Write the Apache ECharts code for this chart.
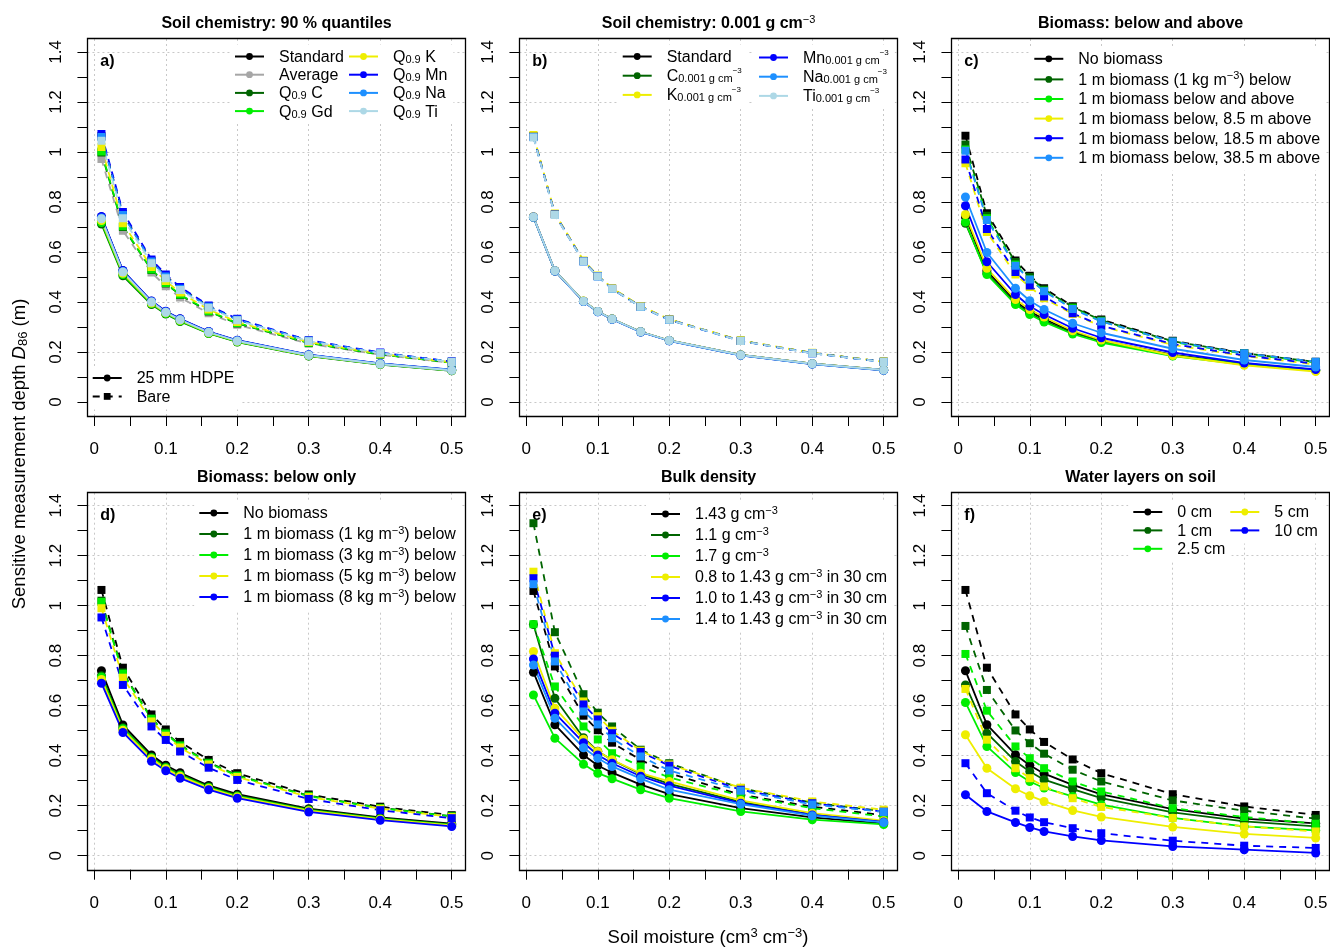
<!DOCTYPE html>
<html><head><meta charset="utf-8">
<script src="https://cdn.jsdelivr.net/npm/echarts@6/dist/echarts.min.js"></script>
<style>html,body{margin:0;padding:0;background:#fff}#c{width:1330px;height:948px}</style>
</head><body><div id="c"></div>
<script>
// ---------------- DATA ----------------
const moisture = [0.01, 0.04, 0.08, 0.1, 0.12, 0.16, 0.2, 0.3, 0.4, 0.5];
const xGridValues = [0, 0.1, 0.2, 0.3, 0.4, 0.5];
const yGridValues = [0, 0.2, 0.4, 0.6, 0.8, 1, 1.2, 1.4];

// a) Soil chemistry: 90 % quantiles  (H = 25 mm HDPE, solid; B = bare, dashed)
const aStdH = [0.740, 0.525, 0.403, 0.362, 0.332, 0.281, 0.246, 0.188, 0.153, 0.128];
const aStdB = [1.063, 0.752, 0.565, 0.505, 0.455, 0.383, 0.330, 0.245, 0.196, 0.161];
const aAvgH = [0.735, 0.515, 0.395, 0.355, 0.325, 0.276, 0.242, 0.185, 0.151, 0.126];
const aAvgB = [0.972, 0.685, 0.518, 0.463, 0.418, 0.355, 0.309, 0.233, 0.189, 0.156];
const aCH   = [0.712, 0.505, 0.390, 0.352, 0.322, 0.274, 0.240, 0.184, 0.150, 0.125];
const aCB   = [0.998, 0.700, 0.528, 0.474, 0.428, 0.362, 0.314, 0.236, 0.190, 0.157];
const aGdH  = [0.718, 0.510, 0.393, 0.354, 0.324, 0.275, 0.241, 0.185, 0.151, 0.126];
const aGdB  = [1.002, 0.703, 0.530, 0.476, 0.430, 0.364, 0.316, 0.237, 0.191, 0.158];
const aKH   = [0.726, 0.515, 0.396, 0.357, 0.327, 0.277, 0.243, 0.186, 0.152, 0.127];
const aKB   = [1.020, 0.715, 0.540, 0.484, 0.438, 0.370, 0.320, 0.240, 0.193, 0.159];
const aMnH  = [0.742, 0.526, 0.404, 0.363, 0.333, 0.282, 0.247, 0.189, 0.154, 0.129];
const aMnB  = [1.072, 0.760, 0.570, 0.510, 0.460, 0.386, 0.333, 0.247, 0.198, 0.162];
const aNaH  = [0.736, 0.522, 0.401, 0.360, 0.330, 0.280, 0.245, 0.188, 0.153, 0.128];
const aNaB  = [1.060, 0.748, 0.562, 0.502, 0.453, 0.381, 0.329, 0.245, 0.196, 0.161];
const aTiH  = [0.733, 0.520, 0.400, 0.359, 0.329, 0.279, 0.244, 0.187, 0.152, 0.127];
const aTiB  = [1.045, 0.735, 0.555, 0.495, 0.448, 0.377, 0.327, 0.243, 0.195, 0.160];

// b) Soil chemistry: 0.001 g cm-3
const bStdH = [0.740, 0.525, 0.403, 0.362, 0.332, 0.281, 0.246, 0.188, 0.153, 0.128];
const bStdB = [1.063, 0.752, 0.564, 0.504, 0.454, 0.382, 0.330, 0.245, 0.196, 0.161];
const bCH   = [0.739, 0.524, 0.403, 0.362, 0.332, 0.281, 0.246, 0.188, 0.153, 0.128];
const bCB   = [1.062, 0.751, 0.564, 0.504, 0.454, 0.382, 0.330, 0.245, 0.196, 0.161];
const bKH   = [0.741, 0.525, 0.404, 0.362, 0.332, 0.281, 0.246, 0.188, 0.153, 0.128];
const bKB   = [1.068, 0.754, 0.566, 0.506, 0.456, 0.384, 0.331, 0.246, 0.197, 0.161];
const bMnH  = [0.740, 0.524, 0.402, 0.361, 0.331, 0.280, 0.245, 0.187, 0.152, 0.127];
const bMnB  = [1.061, 0.750, 0.563, 0.503, 0.453, 0.381, 0.329, 0.244, 0.195, 0.160];
const bNaH  = [0.739, 0.524, 0.402, 0.361, 0.331, 0.280, 0.245, 0.187, 0.152, 0.127];
const bNaB  = [1.060, 0.749, 0.562, 0.502, 0.452, 0.380, 0.328, 0.244, 0.195, 0.160];
const bTiH  = [0.740, 0.525, 0.403, 0.362, 0.332, 0.281, 0.246, 0.188, 0.153, 0.128];
const bTiB  = [1.058, 0.748, 0.562, 0.502, 0.453, 0.381, 0.329, 0.244, 0.195, 0.160];

// c) Biomass: below and above
const cNoH   = [0.740, 0.525, 0.403, 0.362, 0.332, 0.281, 0.246, 0.188, 0.153, 0.128];
const cNoB   = [1.065, 0.755, 0.566, 0.505, 0.455, 0.383, 0.330, 0.245, 0.196, 0.161];
const c1kgH  = [0.715, 0.515, 0.395, 0.355, 0.325, 0.277, 0.243, 0.187, 0.152, 0.127];
const c1kgB  = [1.030, 0.745, 0.560, 0.500, 0.450, 0.380, 0.327, 0.243, 0.195, 0.160];
const cBAH   = [0.720, 0.510, 0.390, 0.350, 0.320, 0.272, 0.238, 0.184, 0.150, 0.125];
const cBAB   = [1.010, 0.735, 0.550, 0.490, 0.445, 0.375, 0.323, 0.240, 0.193, 0.158];
const c85H   = [0.750, 0.535, 0.410, 0.370, 0.340, 0.285, 0.248, 0.186, 0.147, 0.122];
const c85B   = [0.955, 0.680, 0.510, 0.460, 0.415, 0.352, 0.303, 0.228, 0.184, 0.150];
const c185H  = [0.785, 0.561, 0.430, 0.383, 0.350, 0.295, 0.257, 0.198, 0.156, 0.130];
const c185B  = [0.970, 0.692, 0.520, 0.466, 0.422, 0.355, 0.305, 0.232, 0.186, 0.153];
const c385H  = [0.820, 0.598, 0.455, 0.405, 0.370, 0.315, 0.277, 0.213, 0.168, 0.140];
const c385B  = [1.005, 0.728, 0.545, 0.490, 0.443, 0.372, 0.322, 0.242, 0.195, 0.161];

// d) Biomass: below only
const dNoH = [0.740, 0.523, 0.403, 0.362, 0.332, 0.281, 0.246, 0.188, 0.153, 0.128];
const dNoB = [1.063, 0.752, 0.565, 0.505, 0.455, 0.383, 0.330, 0.245, 0.196, 0.162];
const d1H  = [0.720, 0.512, 0.395, 0.355, 0.325, 0.276, 0.241, 0.185, 0.150, 0.125];
const d1B  = [1.020, 0.733, 0.550, 0.492, 0.443, 0.373, 0.322, 0.240, 0.192, 0.158];
const d3H  = [0.715, 0.508, 0.392, 0.352, 0.322, 0.273, 0.238, 0.182, 0.148, 0.123];
const d3B  = [1.015, 0.728, 0.547, 0.488, 0.440, 0.370, 0.319, 0.238, 0.190, 0.157];
const d5H  = [0.705, 0.502, 0.388, 0.348, 0.318, 0.270, 0.235, 0.180, 0.146, 0.121];
const d5B  = [0.990, 0.712, 0.537, 0.480, 0.433, 0.365, 0.315, 0.235, 0.188, 0.155];
const d8H  = [0.690, 0.493, 0.378, 0.340, 0.310, 0.264, 0.230, 0.175, 0.142, 0.117];
const d8B  = [0.953, 0.683, 0.517, 0.463, 0.417, 0.352, 0.303, 0.227, 0.182, 0.150];

// e) Bulk density
const e143H = [0.734, 0.524, 0.403, 0.361, 0.332, 0.284, 0.246, 0.190, 0.153, 0.128];
const e143B = [1.059, 0.757, 0.560, 0.502, 0.452, 0.383, 0.330, 0.244, 0.196, 0.162];
const e11H  = [0.925, 0.630, 0.472, 0.418, 0.383, 0.327, 0.287, 0.215, 0.165, 0.135];
const e11B  = [1.330, 0.894, 0.646, 0.572, 0.517, 0.424, 0.370, 0.270, 0.212, 0.178];
const e17H  = [0.643, 0.470, 0.366, 0.330, 0.308, 0.264, 0.230, 0.177, 0.144, 0.125];
const e17B  = [0.926, 0.677, 0.517, 0.465, 0.410, 0.357, 0.313, 0.240, 0.190, 0.157];
const e08H  = [0.817, 0.590, 0.466, 0.417, 0.384, 0.330, 0.297, 0.221, 0.170, 0.140];
const e08B  = [1.136, 0.810, 0.617, 0.558, 0.500, 0.420, 0.365, 0.272, 0.217, 0.184];
const e10H  = [0.787, 0.570, 0.452, 0.403, 0.370, 0.318, 0.280, 0.210, 0.163, 0.135];
const e10B  = [1.110, 0.800, 0.605, 0.545, 0.490, 0.415, 0.360, 0.264, 0.210, 0.176];
const e14H  = [0.763, 0.550, 0.432, 0.390, 0.357, 0.308, 0.264, 0.206, 0.160, 0.133];
const e14B  = [1.086, 0.777, 0.577, 0.525, 0.470, 0.397, 0.341, 0.260, 0.205, 0.175];

// f) Water layers on soil
const f0H  = [0.740, 0.524, 0.404, 0.362, 0.328, 0.283, 0.245, 0.186, 0.148, 0.129];
const f0B  = [1.063, 0.752, 0.565, 0.505, 0.455, 0.385, 0.330, 0.246, 0.197, 0.163];
const f1H  = [0.683, 0.490, 0.377, 0.337, 0.304, 0.266, 0.230, 0.173, 0.137, 0.117];
const f1B  = [0.919, 0.663, 0.501, 0.450, 0.408, 0.344, 0.297, 0.221, 0.180, 0.148];
const f25H = [0.613, 0.437, 0.333, 0.297, 0.271, 0.237, 0.204, 0.151, 0.117, 0.101];
const f25B = [0.807, 0.580, 0.437, 0.390, 0.350, 0.297, 0.257, 0.190, 0.155, 0.128];
const f5H  = [0.484, 0.350, 0.268, 0.240, 0.217, 0.181, 0.155, 0.115, 0.087, 0.071];
const f5B  = [0.667, 0.464, 0.350, 0.310, 0.277, 0.230, 0.195, 0.151, 0.117, 0.097];
const f10H = [0.244, 0.177, 0.133, 0.113, 0.097, 0.077, 0.061, 0.037, 0.024, 0.011];
const f10B = [0.370, 0.250, 0.180, 0.153, 0.134, 0.110, 0.090, 0.060, 0.040, 0.031];

// ---------------- STYLE / LAYOUT ----------------
const FONT = '"Liberation Sans", Arial, Helvetica, sans-serif';
const COL = {k:'#000000', gray:'#A6A6A6', dg:'#006400', g:'#00EE00', y:'#EEEE00',
             b:'#0000FF', db:'#1E90FF', lb:'#ADD8E6'};
const SX = 714.8, SY = 250;          // px per data unit
const COLX = [94.3, 526.3, 958.3];   // px of x = 0
const ROWY = [52, 505.7];            // px of y = 1.4
const XMIN = -0.0096, XMAX = 0.5196, YMIN = -0.056, YMAX = 1.456;

const RICH = {
  sp:  {width: 10, fontSize: 16, lineHeight: 18, fontFamily: FONT},
  t:   {fontSize: 16, lineHeight: 18, verticalAlign: 'bottom', fontFamily: FONT, color: '#000'},
  sub: {fontSize: 11, lineHeight: 10, verticalAlign: 'bottom', fontFamily: FONT, color: '#000'},
  sup: {fontSize: 11, lineHeight: 6, verticalAlign: 'top', fontFamily: FONT, color: '#000'},
  ss:  {fontSize: 8, lineHeight: 15, verticalAlign: 'top', fontFamily: FONT, color: '#000'},
  tb:  {fontSize: 16, lineHeight: 18, verticalAlign: 'bottom', fontFamily: FONT, fontWeight: 'bold', color: '#000'},
  T:   {fontSize: 18.5, lineHeight: 21, verticalAlign: 'bottom', fontFamily: FONT, color: '#000'},
  Ti:  {fontSize: 18.5, lineHeight: 21, verticalAlign: 'bottom', fontFamily: FONT, fontStyle: 'italic', color: '#000'},
  Tsub:{fontSize: 13, lineHeight: 12, verticalAlign: 'bottom', fontFamily: FONT, color: '#000'},
  Tsup:{fontSize: 13, lineHeight: 7, verticalAlign: 'top', fontFamily: FONT, color: '#000'}
};

const SUBG = '{sub|0.001 g cm}{ss|−3}';
const LABELS = {
  a_std: '{t|Standard}', a_avg: '{t|Average}', a_c: '{t|Q}{sub|0.9}{t| C}', a_gd: '{t|Q}{sub|0.9}{t| Gd}',
  a_k: '{t|Q}{sub|0.9}{t| K}', a_mn: '{t|Q}{sub|0.9}{t| Mn}', a_na: '{t|Q}{sub|0.9}{t| Na}', a_ti: '{t|Q}{sub|0.9}{t| Ti}',
  a_hdpe: '{t|25 mm HDPE}', a_bare: '{t|Bare}',
  b_std: '{t|Standard}', b_c: '{t|C}' + SUBG, b_k: '{t|K}' + SUBG,
  b_mn: '{t|Mn}' + SUBG, b_na: '{t|Na}' + SUBG, b_ti: '{t|Ti}' + SUBG,
  c_no: '{t|No biomass}', c_1kg: '{t|1 m biomass (1 kg m}{sup|−3}{t|) below}',
  c_ba: '{t|1 m biomass below and above}', c_85: '{t|1 m biomass below, 8.5 m above}',
  c_185: '{t|1 m biomass below, 18.5 m above}', c_385: '{t|1 m biomass below, 38.5 m above}',
  d_no: '{t|No biomass}', d_1: '{t|1 m biomass (1 kg m}{sup|−3}{t|) below}',
  d_3: '{t|1 m biomass (3 kg m}{sup|−3}{t|) below}', d_5: '{t|1 m biomass (5 kg m}{sup|−3}{t|) below}',
  d_8: '{t|1 m biomass (8 kg m}{sup|−3}{t|) below}',
  e_143: '{t|1.43 g cm}{sup|−3}', e_11: '{t|1.1 g cm}{sup|−3}', e_17: '{t|1.7 g cm}{sup|−3}',
  e_08: '{t|0.8 to 1.43 g cm}{sup|−3}{t| in 30 cm}', e_10: '{t|1.0 to 1.43 g cm}{sup|−3}{t| in 30 cm}',
  e_14: '{t|1.4 to 1.43 g cm}{sup|−3}{t| in 30 cm}',
  f_0: '{t|0 cm}', f_1: '{t|1 cm}', f_25: '{t|2.5 cm}', f_5: '{t|5 cm}', f_10: '{t|10 cm}'
};

const panels = [
  {title: '{tb|Soil chemistry: 90 % quantiles}', tag: 'a)',
   items: [['a_std', COL.k, aStdH, aStdB], ['a_avg', COL.gray, aAvgH, aAvgB], ['a_c', COL.dg, aCH, aCB],
           ['a_gd', COL.g, aGdH, aGdB], ['a_k', COL.y, aKH, aKB], ['a_mn', COL.b, aMnH, aMnB],
           ['a_na', COL.db, aNaH, aNaB], ['a_ti', COL.lb, aTiH, aTiB]],
   dummies: [['a_hdpe', false], ['a_bare', true]],
   legends: [{ids: ['a_std', 'a_avg', 'a_c', 'a_gd'], x: 234, y: 57.5, sp: 19.2},
             {ids: ['a_k', 'a_mn', 'a_na', 'a_ti'], x: 348, y: 57.5, sp: 19.2},
             {ids: ['a_hdpe', 'a_bare'], x: 91.7, y: 379, sp: 19.4}]},
  {title: '{tb|Soil chemistry: 0.001 g cm}{sup|−3}', tag: 'b)',
   items: [['b_std', COL.k, bStdH, bStdB], ['b_c', COL.dg, bCH, bCB], ['b_k', COL.y, bKH, bKB],
           ['b_mn', COL.b, bMnH, bMnB], ['b_na', COL.db, bNaH, bNaB], ['b_ti', COL.lb, bTiH, bTiB]],
   legends: [{ids: ['b_std', 'b_c', 'b_k'], x: 621.7, y: 57.5, sp: 19.2},
             {ids: ['b_mn', 'b_na', 'b_ti'], x: 758, y: 57.5, sp: 19.2}]},
  {title: '{tb|Biomass: below and above}', tag: 'c)',
   items: [['c_no', COL.k, cNoH, cNoB], ['c_1kg', COL.dg, c1kgH, c1kgB], ['c_ba', COL.g, cBAH, cBAB],
           ['c_85', COL.y, c85H, c85B], ['c_185', COL.b, c185H, c185B], ['c_385', COL.db, c385H, c385B]],
   legends: [{ids: ['c_no', 'c_1kg', 'c_ba', 'c_85', 'c_185', 'c_385'], x: 1033.3, y: 59.8, sp: 20.6}]},
  {title: '{tb|Biomass: below only}', tag: 'd)',
   items: [['d_no', COL.k, dNoH, dNoB], ['d_1', COL.dg, d1H, d1B], ['d_3', COL.g, d3H, d3B],
           ['d_5', COL.y, d5H, d5B], ['d_8', COL.b, d8H, d8B]],
   legends: [{ids: ['d_no', 'd_1', 'd_3', 'd_5', 'd_8'], x: 198.3, y: 514, sp: 21}]},
  {title: '{tb|Bulk density}', tag: 'e)',
   items: [['e_143', COL.k, e143H, e143B], ['e_11', COL.dg, e11H, e11B], ['e_17', COL.g, e17H, e17B],
           ['e_08', COL.y, e08H, e08B], ['e_10', COL.b, e10H, e10B], ['e_14', COL.db, e14H, e14B]],
   legends: [{ids: ['e_143', 'e_11', 'e_17', 'e_08', 'e_10', 'e_14'], x: 650, y: 514, sp: 21}]},
  {title: '{tb|Water layers on soil}', tag: 'f)',
   items: [['f_0', COL.k, f0H, f0B], ['f_1', COL.dg, f1H, f1B], ['f_25', COL.g, f25H, f25B],
           ['f_5', COL.y, f5H, f5B], ['f_10', COL.b, f10H, f10B]],
   legends: [{ids: ['f_0', 'f_1', 'f_25'], x: 1132.3, y: 513, sp: 19.4},
             {ids: ['f_5', 'f_10'], x: 1229.3, y: 513, sp: 19.4}]}
];

// ---------------- BUILD ----------------
const grids = [], xAxes = [], yAxes = [], series = [], legends = [], graphics = [];
const PAD = [4, 6, 4, 4];

function lineSeries(name, gi, vals, color, dashed) {
  return {
    type: 'line', name: name, xAxisIndex: gi, yAxisIndex: gi,
    data: vals ? moisture.map((x, k) => [x, vals[k]]) : [],
    symbol: dashed ? 'rect' : 'circle', symbolSize: dashed ? 8 : 9,
    showSymbol: true, showAllSymbol: true, clip: false, z: 3, silent: true,
    lineStyle: {color: color, width: 1.8, type: dashed ? [7, 6] : 'solid'},
    itemStyle: {color: color, borderWidth: 0},
    emphasis: {disabled: true}, animation: false
  };
}

panels.forEach((p, i) => {
  const c = i % 3, r = Math.floor(i / 3);
  const dl = COLX[c], dt = ROWY[r];
  const bl = dl + XMIN * SX, bt = dt - (YMAX - 1.4) * SY;
  const bw = (XMAX - XMIN) * SX, bh = (YMAX - YMIN) * SY;
  const gp = 2 * i, gt = 2 * i + 1;

  grids.push({left: bl, top: bt, width: bw, height: bh, containLabel: false, outerBoundsMode: 'none', show: false});
  grids.push({left: dl, top: dt, width: 0.5 * SX, height: 1.4 * SY, containLabel: false, outerBoundsMode: 'none', show: false});

  xAxes.push({type: 'value', gridIndex: gp, min: XMIN, max: XMAX, show: false});
  xAxes.push({type: 'value', gridIndex: gt, min: 0, max: 0.5, interval: 0.1, position: 'bottom',
    offset: (0 - YMIN) * SY,
    axisLine: {show: false, onZero: false},
    axisTick: {show: true, length: 10, lineStyle: {color: '#000', width: 1}},
    minorTick: {show: true, splitNumber: 2, length: 10, lineStyle: {color: '#000', width: 1}},
    splitLine: {show: false}, minorSplitLine: {show: false},
    axisLabel: {fontSize: 17, fontFamily: FONT, color: '#000', margin: 25}});

  yAxes.push({type: 'value', gridIndex: gp, min: YMIN, max: YMAX, show: false});
  yAxes.push({type: 'value', gridIndex: gt, min: 0, max: 1.4, interval: 0.2, position: 'left',
    offset: (0 - XMIN) * SX,
    axisLine: {show: false, onZero: false},
    axisTick: {show: true, length: 10, lineStyle: {color: '#000', width: 1}},
    minorTick: {show: true, splitNumber: 2, length: 10, lineStyle: {color: '#000', width: 1}},
    splitLine: {show: false}, minorSplitLine: {show: false},
    axisLabel: {fontSize: 17, fontFamily: FONT, color: '#000', rotate: 90, margin: 23}});

  // dotted grid lines spanning the whole plot box
  series.push({type: 'line', name: 'grid' + i, xAxisIndex: gp, yAxisIndex: gp, data: [], z: 1, silent: true,
    markLine: {silent: true, symbol: 'none', z: 1, animation: false, label: {show: false},
      lineStyle: {color: '#C8C8C8', width: 1, type: [2, 3]},
      emphasis: {disabled: true},
      data: xGridValues.map(v => ({xAxis: v})).concat(yGridValues.map(v => ({yAxis: v})))}});

  p.items.forEach(it => {
    series.push(lineSeries(it[0], gp, it[2], it[1], false));
    series.push(lineSeries(it[0] + '_bare', gp, it[3], it[1], true));
  });
  (p.dummies || []).forEach(d => series.push(lineSeries(d[0], gp, null, COL.k, d[1])));

  p.legends.forEach(L => {
    legends.push({
      orient: 'vertical', left: L.x - PAD[3], top: L.y - 9 - PAD[0], padding: PAD,
      itemWidth: 29, itemHeight: 8.5, itemGap: L.sp - 18, backgroundColor: '#fff',
      selectedMode: false, z: 4, data: L.ids,
      formatter: n => '{sp| }' + LABELS[n],
      textStyle: {fontSize: 16, fontFamily: FONT, color: '#000', rich: RICH}
    });
  });

  // box
  graphics.push({type: 'rect', z: 100, silent: true,
    shape: {x: Math.round(bl) + 0.5, y: Math.round(bt) + 0.5, width: Math.round(bw), height: Math.round(bh)},
    style: {fill: 'none', stroke: '#000', lineWidth: 1.3}});
  // title
  graphics.push({type: 'text', z: 100, silent: true, x: bl + bw / 2, y: r === 0 ? 23 : 477,
    style: {text: p.title, rich: RICH, align: 'center', verticalAlign: 'middle', fill: '#000'}});
  // panel tag
  graphics.push({type: 'text', z: 100, silent: true, x: dl + 6, y: dt + 9,
    style: {text: '{tb|' + p.tag + '}', rich: RICH, align: 'left', verticalAlign: 'middle', fill: '#000'}});
});

// axis titles
graphics.push({type: 'text', z: 100, silent: true, x: 19, y: 454, rotation: Math.PI / 2,
  style: {text: '{T|Sensitive measurement depth }{Ti|D}{Tsub|86}{T| (m)}', rich: RICH,
          align: 'center', verticalAlign: 'middle', fill: '#000'}});
graphics.push({type: 'text', z: 100, silent: true, x: 708, y: 937,
  style: {text: '{T|Soil moisture (cm}{Tsup|3}{T| cm}{Tsup|−3}{T|)}', rich: RICH,
          align: 'center', verticalAlign: 'middle', fill: '#000'}});

const chart = echarts.init(document.getElementById('c'), null, {renderer: 'canvas'});
chart.setOption({
  animation: false,
  backgroundColor: '#fff',
  textStyle: {fontFamily: FONT},
  grid: grids, xAxis: xAxes, yAxis: yAxes,
  legend: legends, series: series, graphic: graphics
});
</script>
</body></html>
